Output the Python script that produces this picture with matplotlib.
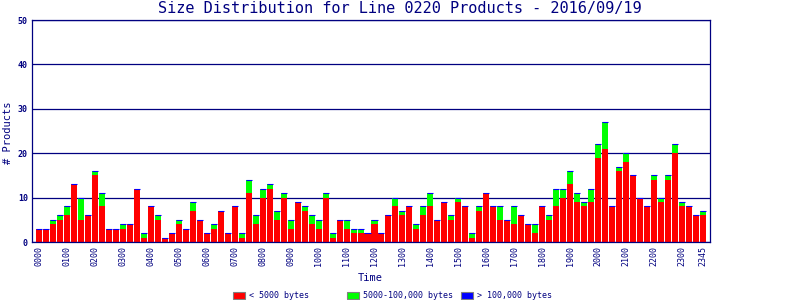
import matplotlib
matplotlib.use("Agg")
import matplotlib.pyplot as plt
import matplotlib.patches as mpatches
import numpy as np

# 15-minute slots for the day
slots = [f"{h:02d}{m:02d}" for h in range(24) for m in (0, 15, 30, 45)]

# products < 5000 bytes
small = [3, 3, 4, 5, 6, 13, 5, 6, 15, 8, 3, 3, 3, 4, 12, 1, 8, 5, 1, 2, 4, 3, 7, 5,
         2, 3, 7, 2, 8, 1, 11, 4, 10, 12, 5, 10, 3, 9, 7, 4, 3, 10, 1, 5, 3, 2, 2, 2,
         4, 2, 6, 8, 6, 8, 3, 6, 8, 5, 9, 5, 9, 8, 1, 7, 11, 8, 5, 5, 4, 6, 4, 2,
         8, 5, 8, 10, 13, 9, 8, 9, 19, 21, 8, 16, 18, 15, 10, 8, 14, 9, 14, 20, 8, 8, 6, 6]
# products 5000-100,000 bytes
medium = [0, 0, 1, 1, 2, 0, 5, 0, 1, 3, 0, 0, 1, 0, 0, 1, 0, 1, 0, 0, 1, 0, 2, 0,
          0, 1, 0, 0, 0, 1, 3, 2, 2, 1, 2, 1, 2, 0, 1, 2, 2, 1, 1, 0, 2, 1, 1, 0,
          1, 0, 0, 2, 1, 0, 1, 2, 3, 0, 0, 1, 1, 0, 1, 1, 0, 0, 3, 0, 4, 0, 0, 2,
          0, 1, 4, 2, 3, 2, 1, 3, 3, 6, 0, 1, 2, 0, 0, 0, 1, 1, 1, 2, 1, 0, 0, 1]
# products > 100,000 bytes
large = [0] * 96

tick_labels = ["0000", "0100", "0200", "0300", "0400", "0500", "0600", "0700",
               "0800", "0900", "1000", "1100", "1200", "1300", "1400", "1500",
               "1600", "1700", "1800", "1900", "2000", "2100", "2200", "2300", "2345"]

navy = "#000080"
mono = "DejaVu Sans Mono"
plt.rcParams["font.family"] = mono

fig = plt.figure(figsize=(8, 3), dpi=100)
ax = fig.add_axes([0.04, 0.1933, 0.8475, 0.74])

x = np.arange(len(slots))
small = np.array(small)
medium = np.array(medium)
large = np.array(large)

ax.bar(x, small, width=0.86, color="#ff0000", linewidth=0)
ax.bar(x, medium, width=0.86, bottom=small, color="#00ff00", linewidth=0)
ax.bar(x, large, width=0.86, bottom=small + medium, color="#0000ff",
       edgecolor="#0000ff", linewidth=0.8)

ax.set_xlim(-1, 96)
ax.set_ylim(0, 50)
ax.set_yticks([0, 10, 20, 30, 40, 50])
ax.set_yticklabels(["0", "10", "20", "30", "40", "50"], fontsize=6,
                   fontweight="bold", color=navy)
tick_pos = [slots.index(t) for t in tick_labels]
ax.set_xticks(tick_pos)
ax.set_xticklabels(tick_labels, rotation=90, fontsize=6, color=navy)
ax.tick_params(length=0, pad=3)
ax.yaxis.grid(True, color=navy, linewidth=0.9)
ax.set_axisbelow(True)
for s in ax.spines.values():
    s.set_color(navy)
    s.set_linewidth(0.9)

fig.text(0.5, 0.972, "Size Distribution for Line 0220 Products - 2016/09/19",
         ha="center", va="center", fontsize=11, color=navy)
fig.text(370 / 800, 1 - 278 / 300, "Time", ha="center", va="center",
         fontsize=7.5, color=navy)
fig.text(8 / 800, 1 - 133 / 300, "# Products", ha="center", va="center",
         rotation=90, fontsize=7.5, color=navy)

# legend drawn along the bottom
legend_items = [("#ff0000", "< 5000 bytes", 233),
                ("#00ff00", "5000-100,000 bytes", 347),
                ("#0000ff", "> 100,000 bytes", 461)]
for color, label, px in legend_items:
    fig.add_artist(mpatches.Rectangle((px / 800, 1 - 299 / 300), 12 / 800, 7 / 300,
                                      transform=fig.transFigure, facecolor=color,
                                      edgecolor="#808080", linewidth=0.8))
    fig.text((px + 16) / 800, 1 - 295.5 / 300, label, ha="left", va="center",
             fontsize=6, color=navy)

fig.savefig("out.png", dpi=100)
